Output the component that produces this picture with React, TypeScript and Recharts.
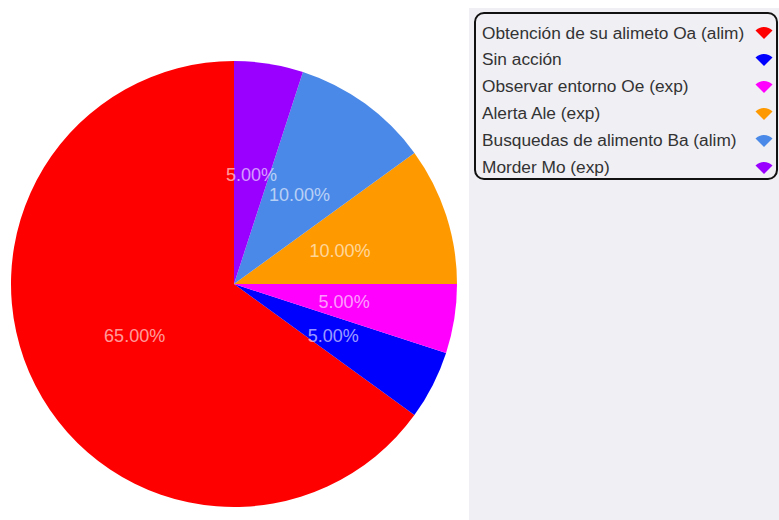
import React from "react";
import { PieChart, Pie, Cell, Legend } from "recharts";

const categories = [
  "Obtención de su alimeto Oa (alim)",
  "Sin acción",
  "Observar entorno Oe (exp)",
  "Alerta Ale (exp)",
  "Busquedas de alimento Ba (alim)",
  "Morder Mo (exp)",
];
const values = [65, 5, 5, 10, 10, 5];
const colors = ["#ff0000", "#0000ff", "#ff00ff", "#ff9900", "#4a89e8", "#9900ff"];

const data = categories.map((name, i) => ({ name, value: values[i] }));
const total = values.reduce((a, b) => a + b, 0);

const RAD = Math.PI / 180;

const renderLabel = (props: any) => {
  const { cx, cy, midAngle, outerRadius, value } = props;
  const r = outerRadius * 0.5;
  const x = cx + r * Math.cos(-midAngle * RAD);
  const y = cy + r * Math.sin(-midAngle * RAD);
  return (
    <text
      x={x}
      y={y + 1}
      fill="#ffffff"
      fillOpacity={0.62}
      textAnchor="middle"
      dominantBaseline="central"
      fontSize={18}
      fontFamily="'Liberation Sans', Arial, sans-serif"
    >
      {((value / total) * 100).toFixed(2)}%
    </text>
  );
};

const Wedge = ({ color }: { color: string }) => (
  <svg width={20} height={14} viewBox="0 0 20 14">
    <path d="M10 13 L1.5 4.5 A12 12 0 0 1 18.5 4.5 Z" fill={color} />
  </svg>
);

const renderLegend = () => (
  <div
    style={{
      position: "absolute",
      left: 5,
      top: 4,
      width: 304,
      height: 168,
      border: "2px solid #111",
      borderRadius: 10,
      boxSizing: "border-box",
      fontFamily: "'Liberation Sans', Arial, sans-serif",
      fontSize: 17.3,
      color: "#333",
    }}
  >
    {categories.map((c, i) => (
      <div
        key={c}
        style={{
          position: "absolute",
          left: 6,
          right: 2,
          top: 8 + i * 26.9,
          height: 22,
          display: "flex",
          alignItems: "center",
          justifyContent: "space-between",
        }}
      >
        <span style={{ whiteSpace: "nowrap" }}>{c}</span>
        <Wedge color={colors[i]} />
      </div>
    ))}
  </div>
);

export default function App() {
  return (
    <div style={{ position: "absolute", left: 0, top: 0, width: 779, height: 520, background: "#fff" }}>
      <PieChart width={779} height={520} margin={{ top: 0, right: 0, bottom: 0, left: 0 }}>
        <Legend
          content={renderLegend}
          wrapperStyle={{
            position: "absolute",
            left: 469,
            top: 8,
            width: 310,
            height: 512,
            background: "#efeff4",
          }}
        />
        <Pie
          data={data}
          dataKey="value"
          nameKey="name"
          cx={234}
          cy={284}
          outerRadius={223}
          startAngle={90}
          endAngle={450}
          stroke="none"
          label={renderLabel}
          labelLine={false}
          isAnimationActive={false}
        >
          {data.map((d, i) => (
            <Cell key={d.name} fill={colors[i]} />
          ))}
        </Pie>
      </PieChart>
    </div>
  );
}
